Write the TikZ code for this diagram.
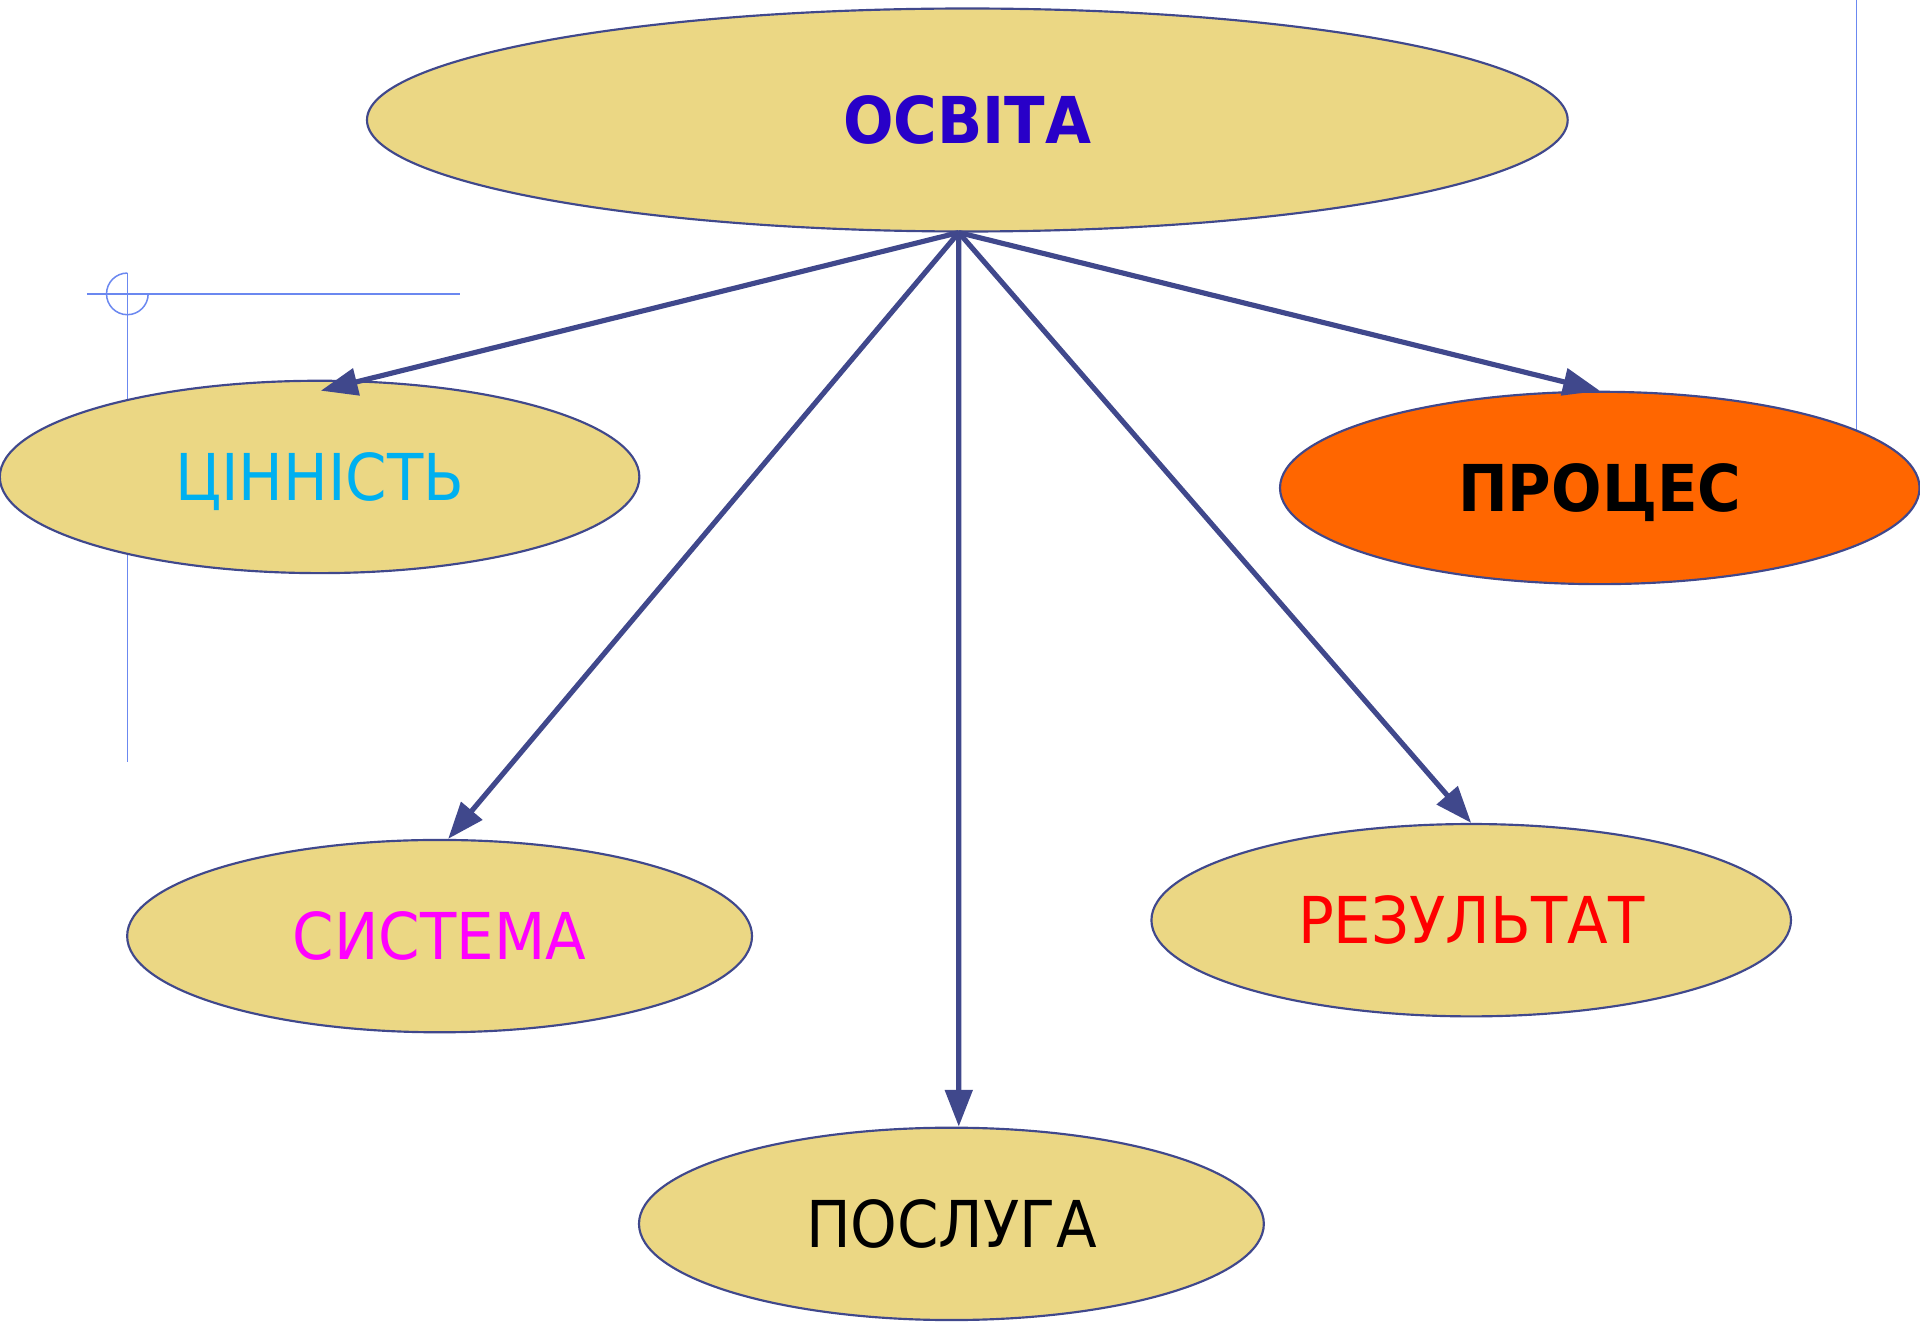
\documentclass[tikz,border=0pt]{standalone}
\usepackage{fontspec}
\setmainfont{DejaVu Sans}[FakeStretch=0.92]
\usetikzlibrary{shapes.geometric,arrows.meta}
\definecolor{sand}{RGB}{235,215,132}
\definecolor{linkblue}{RGB}{64,72,140}
\definecolor{guideblue}{RGB}{107,136,240}
\definecolor{titleblue}{RGB}{40,0,200}
\definecolor{skyblue}{RGB}{0,176,240}
\definecolor{pinkviolet}{RGB}{255,0,255}
\definecolor{procorange}{RGB}{255,102,0}

\begin{document}
\begin{tikzpicture}[x=0.01cm, y=-0.01cm,
    bubble/.style={ellipse, draw=linkblue, line width=0.5pt, fill=sand, inner sep=0pt,
        minimum width=5.22cm, minimum height=1.57cm, text height=0.385cm, text depth=0pt,
        font=\fontsize{15}{18}\selectfont},
    boldbubble/.style={bubble, font=\fontsize{15}{18}\selectfont\bfseries},
    link/.style={draw=linkblue, line width=0.042cm, -{Triangle[length=0.3cm,width=0.22cm]}},
    guide/.style={draw=guideblue, line width=0.35pt}]
    \useasboundingbox (0,0) rectangle (1568,1079);

    % thin guide lines, behind the ellipses
    \draw[guide] (71,240) -- (376,240);
    \draw[guide] (104,223) -- (104,622);
    \draw[guide] (104,223) arc[start angle=270, end angle=0, radius=17];
    \draw[guide] (1516,0) -- (1516,400);

    \node[boldbubble, minimum width=9.8cm, minimum height=1.82cm, text=titleblue] (osvita) at (790,98) {ОСВІТА};
    \node[bubble, text=skyblue] (cinnist) at (261,389.5) {ЦІННІСТЬ};
    \node[boldbubble, fill=procorange, text=black] (proces) at (1306.5,398.5) {ПРОЦЕС};
    \node[bubble, minimum width=5.1cm, text=pinkviolet] (systema) at (359,764.5) {СИСТЕМА};
    \node[bubble, text=red] (rezultat) at (1201.5,751.5) {РЕЗУЛЬТАТ};
    \node[bubble, minimum width=5.1cm, text=black] (posluha) at (777,999.5) {ПОСЛУГА};

    \coordinate (hub) at ([xshift=-0.07cm]osvita.south);
    \draw[link] (hub) -- ([xshift=0.01cm,yshift=-0.09cm]cinnist.north);
    \draw[link] (hub) -- (proces.north);
    \draw[link] (hub) -- ([xshift=0.07cm]systema.north);
    \draw[link] (hub) -- ([xshift=0.06cm]posluha.north);
    \draw[link] (hub) -- (rezultat.north);
\end{tikzpicture}
\end{document}
